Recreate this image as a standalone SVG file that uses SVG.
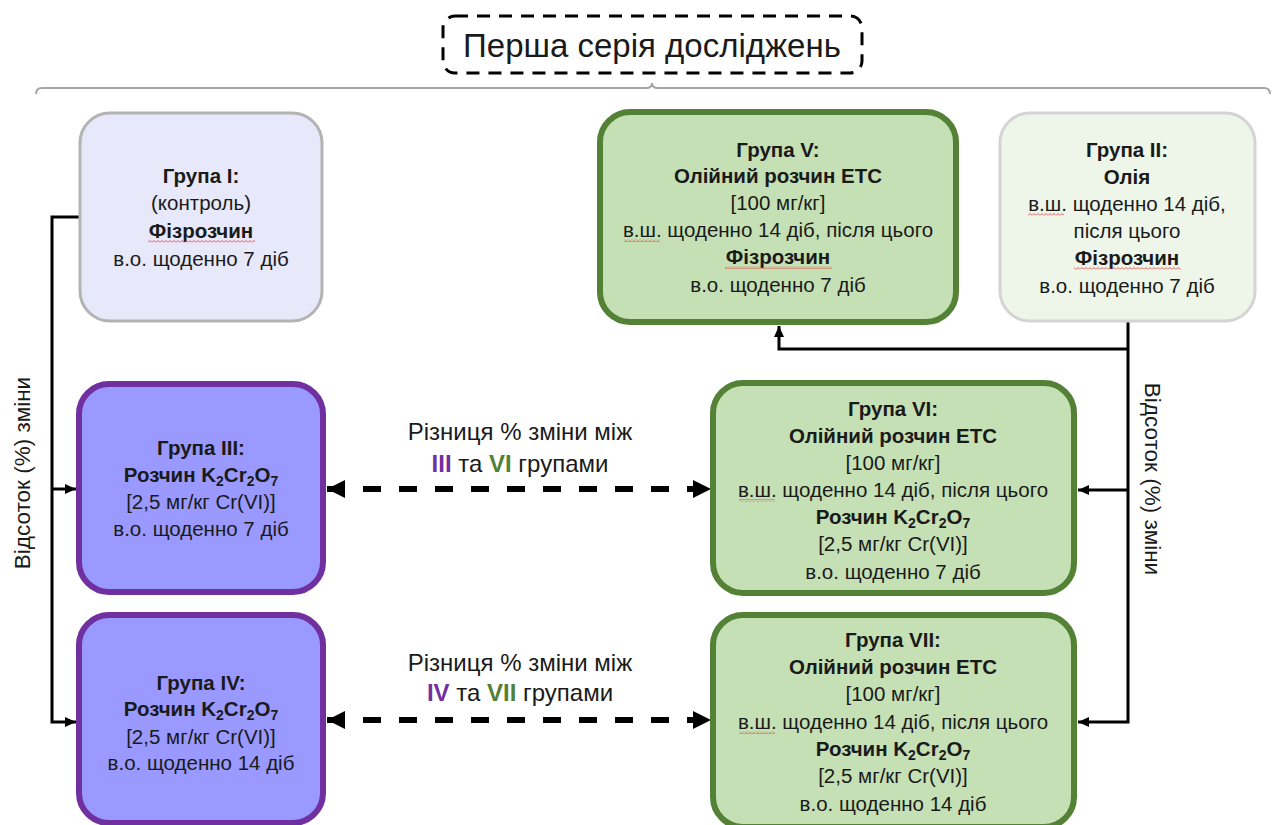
<svg xmlns="http://www.w3.org/2000/svg" width="1272" height="825" viewBox="0 0 1272 825">
<style>
  text { font-family: "Liberation Sans", Arial, sans-serif; fill: #1a1a1a; }
  .t { font-size: 20.5px; text-anchor: middle; }
  .b { font-weight: bold; }
  .lbl { font-size: 24px; text-anchor: middle; }
  .side { font-size: 22.5px; text-anchor: middle; }
  .title { font-size: 33px; text-anchor: middle; }
  .purpleNode { fill: #9999ff; stroke: #7030a0; stroke-width: 6; }
  .greenNode { fill: #c5e0b4; stroke: #538135; stroke-width: 6; }
  .conn { fill: none; stroke: #000; stroke-width: 3; }
  .dash { fill: none; stroke: #000; stroke-width: 6; stroke-dasharray: 18 18; }
  .wave { fill: url(#wavy); }
</style>
<defs>
  <marker id="arr" markerUnits="userSpaceOnUse" markerWidth="12" markerHeight="12" refX="11" refY="6" orient="auto-start-reverse">
    <path d="M0,1 L11,6 L0,11 z" fill="#000"/>
  </marker>
  <marker id="big" markerUnits="userSpaceOnUse" markerWidth="20" markerHeight="20" refX="18" refY="10" orient="auto-start-reverse">
    <path d="M0,1 L18,10 L0,19 z" fill="#000"/>
  </marker>
  <pattern id="wavy" patternUnits="userSpaceOnUse" width="4" height="3">
    <path d="M0,2.5 L2,0.5 L4,2.5" fill="none" stroke="#e03030" stroke-width="0.8"/>
  </pattern>
</defs>

<g id="title">
  <rect x="443" y="16" width="419" height="57" rx="12" fill="none" stroke="#000" stroke-width="3" stroke-dasharray="13 9"/>
  <text class="title" x="652" y="57">Перша серія досліджень</text>
  <path d="M36,94 Q36,88 42,88 L646,88 Q652,88 652,83 Q652,88 658,88 L1264,88 Q1270,88 1270,94" fill="none" stroke="#a6a6a6" stroke-width="2"/>
</g>

<g id="connectors">
  <path class="conn" d="M79,217 L52,217 L52,722 L76,722" marker-end="url(#arr)"/>
  <path class="conn" d="M52,489 L76,489" marker-end="url(#arr)"/>
  <path class="conn" d="M1128,322 L1128,722 L1078,722" marker-end="url(#arr)"/>
  <path class="conn" d="M1128,490 L1078,490" marker-end="url(#arr)"/>
  <path class="conn" d="M1128,349 L779,349 L779,326" marker-end="url(#arr)"/>
  <path class="dash" d="M327,489 L711,489" marker-start="url(#big)" marker-end="url(#big)"/>
  <path class="dash" d="M327,720 L711,720" marker-start="url(#big)" marker-end="url(#big)"/>
</g>

<g id="label-left">
  <text class="side" transform="translate(30,473) rotate(-90)">Відсоток (%) зміни</text>
</g>
<g id="label-right">
  <text class="side" transform="translate(1145,479) rotate(90)">Відсоток (%) зміни</text>
</g>

<g id="label-diff1">
  <text class="lbl" x="520" y="440">Різниця % зміни між</text>
  <text class="lbl" x="520" y="472"><tspan class="b" fill="#7030a0">III</tspan> та <tspan class="b" fill="#538135">VI</tspan> групами</text>
</g>
<g id="label-diff2">
  <text class="lbl" x="520" y="671">Різниця % зміни між</text>
  <text class="lbl" x="520" y="701"><tspan class="b" fill="#7030a0">IV</tspan> та <tspan class="b" fill="#538135">VII</tspan> групами</text>
</g>

<g id="group1">
  <rect x="80" y="113" width="242" height="208" rx="30" fill="#e8e8fb" stroke="#b3b3b3" stroke-width="3"/>
  <text class="t b" x="201" y="183">Група I:</text>
  <text class="t" x="201" y="210">(контроль)</text>
  <text class="t b" x="201" y="238">Фізрозчин</text>
  <text class="t" x="201" y="266">в.о. щоденно 7 діб</text>
  <rect class="wave" x="148" y="240" width="107" height="3"/>
</g>

<g id="group5">
  <rect x="600" y="112" width="356" height="210" rx="30" class="greenNode"/>
  <text class="t b" x="778" y="157">Група V:</text>
  <text class="t b" x="778" y="183">Олійний розчин ЕТС</text>
  <text class="t" x="778" y="210">[100 мг/кг]</text>
  <text class="t" x="778" y="237">в.ш. щоденно 14 діб, після цього</text>
  <text class="t b" x="778" y="264">Фізрозчин</text>
  <text class="t" x="778" y="292">в.о. щоденно 7 діб</text>
  <rect class="wave" x="624" y="239" width="36" height="3"/>
  <rect class="wave" x="725" y="266" width="107" height="3"/>
</g>

<g id="group2">
  <rect x="1000" y="113" width="255" height="208" rx="30" fill="#eef6ea" stroke="#d4d4d4" stroke-width="3"/>
  <text class="t b" x="1127" y="157">Група II:</text>
  <text class="t b" x="1127" y="184">Олія</text>
  <text class="t" x="1127" y="211">в.ш. щоденно 14 діб,</text>
  <text class="t" x="1127" y="238">після цього</text>
  <text class="t b" x="1127" y="265">Фізрозчин</text>
  <text class="t" x="1127" y="293">в.о. щоденно 7 діб</text>
  <rect class="wave" x="1028" y="213" width="36" height="3"/>
  <rect class="wave" x="1074" y="267" width="107" height="3"/>
</g>

<g id="group3">
  <rect x="79" y="384" width="244" height="208" rx="30" class="purpleNode"/>
  <text class="t b" x="201" y="455">Група III:</text>
  <text class="t b" x="201" y="482">Розчин K<tspan dy="4" font-size="14">2</tspan><tspan dy="-4">Cr</tspan><tspan dy="4" font-size="14">2</tspan><tspan dy="-4">O</tspan><tspan dy="4" font-size="14">7</tspan></text>
  <text class="t" x="201" y="509">[2,5 мг/кг Cr(VI)]</text>
  <text class="t" x="201" y="536">в.о. щоденно 7 діб</text>
</g>

<g id="group4">
  <rect x="79" y="615" width="244" height="208" rx="30" class="purpleNode"/>
  <text class="t b" x="201" y="690">Група IV:</text>
  <text class="t b" x="201" y="716">Розчин K<tspan dy="4" font-size="14">2</tspan><tspan dy="-4">Cr</tspan><tspan dy="4" font-size="14">2</tspan><tspan dy="-4">O</tspan><tspan dy="4" font-size="14">7</tspan></text>
  <text class="t" x="201" y="744">[2,5 мг/кг Cr(VI)]</text>
  <text class="t" x="201" y="770">в.о. щоденно 14 діб</text>
</g>

<g id="group6">
  <rect x="713" y="383" width="361" height="210" rx="30" class="greenNode"/>
  <text class="t b" x="893" y="416">Група VI:</text>
  <text class="t b" x="893" y="443">Олійний розчин ЕТС</text>
  <text class="t" x="893" y="470">[100 мг/кг]</text>
  <text class="t" x="893" y="497">в.ш. щоденно 14 діб, після цього</text>
  <text class="t b" x="893" y="524">Розчин K<tspan dy="4" font-size="14">2</tspan><tspan dy="-4">Cr</tspan><tspan dy="4" font-size="14">2</tspan><tspan dy="-4">O</tspan><tspan dy="4" font-size="14">7</tspan></text>
  <text class="t" x="893" y="551">[2,5 мг/кг Cr(VI)]</text>
  <text class="t" x="893" y="579">в.о. щоденно 7 діб</text>
  <rect class="wave" x="739" y="499" width="36" height="3"/>
</g>

<g id="group7">
  <rect x="713" y="615" width="361" height="212" rx="30" class="greenNode"/>
  <text class="t b" x="893" y="647">Група VII:</text>
  <text class="t b" x="893" y="674">Олійний розчин ЕТС</text>
  <text class="t" x="893" y="701">[100 мг/кг]</text>
  <text class="t" x="893" y="729">в.ш. щоденно 14 діб, після цього</text>
  <text class="t b" x="893" y="756">Розчин K<tspan dy="4" font-size="14">2</tspan><tspan dy="-4">Cr</tspan><tspan dy="4" font-size="14">2</tspan><tspan dy="-4">O</tspan><tspan dy="4" font-size="14">7</tspan></text>
  <text class="t" x="893" y="783">[2,5 мг/кг Cr(VI)]</text>
  <text class="t" x="893" y="811">в.о. щоденно 14 діб</text>
  <rect class="wave" x="739" y="731" width="36" height="3"/>
</g>
</svg>
